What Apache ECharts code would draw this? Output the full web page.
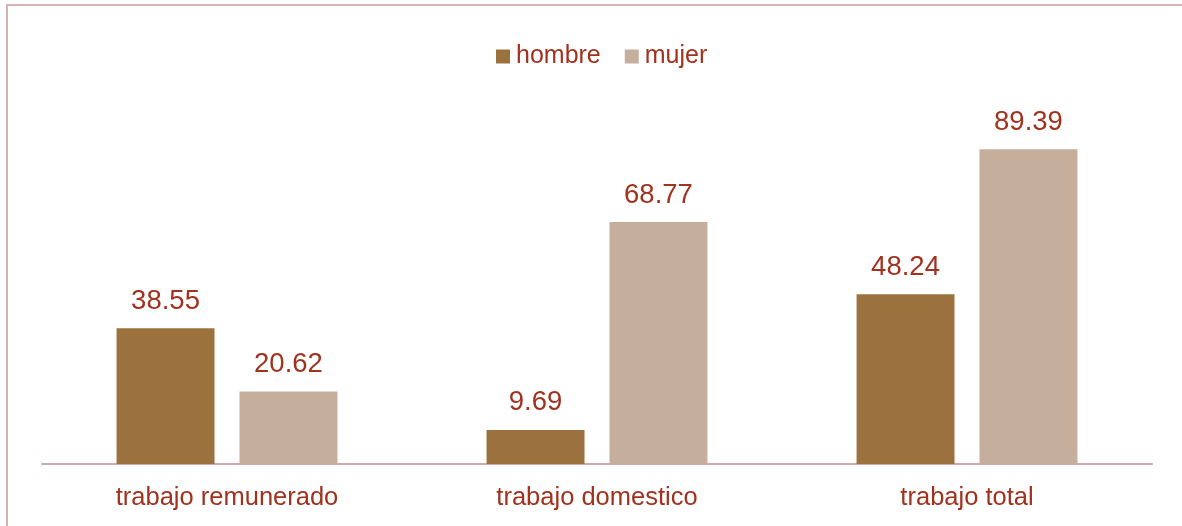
<!DOCTYPE html>
<html>
<head>
<meta charset="utf-8">
<script src="https://cdn.jsdelivr.net/npm/echarts@6/dist/echarts.min.js"></script>
<style>html,body{margin:0;padding:0;background:#fff}#c{width:1182px;height:526px}</style>
</head>
<body>
<div id="c"></div>
<script>
const categories = ['trabajo remunerado', 'trabajo domestico', 'trabajo total'];
const seriesNames = ['hombre', 'mujer'];
const hombre = [38.55, 9.69, 48.24];
const mujer = [20.62, 68.77, 89.39];

const textColor = '#a0321e';
const fontFam = '"Liberation Sans", Arial, sans-serif';
const chart = echarts.init(document.getElementById('c'), null, {renderer: 'canvas'});
const labelCfg = {
  show: true, position: 'top', distance: 13,
  color: textColor, fontSize: 27.5, fontFamily: fontFam,
  formatter: p => p.value.toFixed(2)
};
chart.setOption({
  animation: false,
  backgroundColor: '#ffffff',
  graphic: [
    {type: 'line', shape: {x1: 7, y1: 5, x2: 7, y2: 526}, style: {stroke: '#d6b3b3', lineWidth: 2}},
    {type: 'line', shape: {x1: 6, y1: 5, x2: 1182, y2: 5}, style: {stroke: '#d6b3b3', lineWidth: 2}}
  ],
  legend: {
    top: 39, left: 491,
    itemWidth: 14, itemHeight: 14, itemGap: 24,
    icon: 'rect',
    textStyle: {color: textColor, fontSize: 25, fontFamily: fontFam, padding: [0, 0, 0, 1]},
    data: seriesNames
  },
  grid: {left: 42, right: 30, top: 112, bottom: 62, containLabel: false},
  xAxis: {
    type: 'category', data: categories,
    axisLine: {show: true, lineStyle: {color: '#d4a8a8', width: 2}},
    axisTick: {show: false},
    axisLabel: {color: textColor, fontSize: 25.5, fontFamily: fontFam, margin: 21}
  },
  yAxis: {
    type: 'value', min: 0, max: 100, show: false,
    splitLine: {show: false}
  },
  series: [
    {name: seriesNames[0], type: 'bar', data: hombre, barGap: '25.5%', barCategoryGap: '40.3%',
     itemStyle: {color: '#9b723e'}, label: labelCfg},
    {name: seriesNames[1], type: 'bar', data: mujer,
     itemStyle: {color: '#c6ae9c'}, label: labelCfg}
  ]
});
</script>
</body>
</html>
